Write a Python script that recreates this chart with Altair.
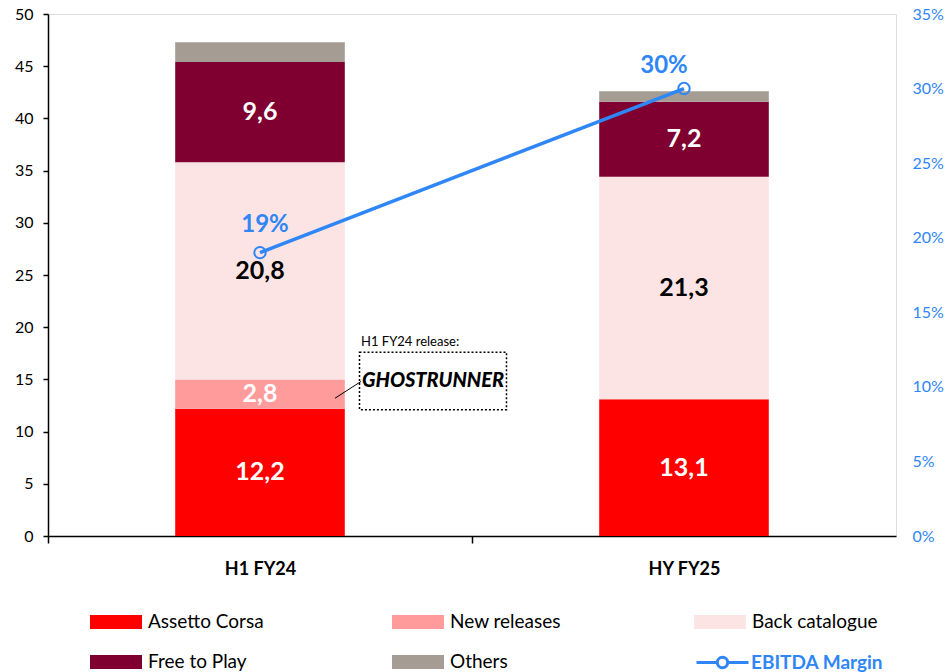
import altair as alt
import pandas as pd

# ---------------- data ----------------
periods = ["H1 FY24", "HY FY25"]
categories = ["Assetto Corsa", "New releases", "Back catalogue", "Free to Play", "Others"]
assetto_corsa = [12.2, 13.1]
new_releases = [2.8, 0.0]
back_catalogue = [20.8, 21.3]
free_to_play = [9.6, 7.2]
others = [1.9, 1.0]
ebitda_margin = [0.19, 0.30]
margin_series = "EBITDA Margin"
annotation_title = "H1 FY24 release:"
annotation_logo = "GHOSTRUNNER"

# ---------------- styles ----------------
cat_colors = ["#ff0000", "#ff9b9b", "#fde4e4", "#7f0030", "#a59c94"]
BLUE = "#2f86f6"
FONT = "Lato"

series = [assetto_corsa, new_releases, back_catalogue, free_to_play, others]
rows = []
for i, p in enumerate(periods):
    for k, c in enumerate(categories):
        rows.append({"period": p, "category": c, "order": k, "value": series[k][i]})
bars_df = pd.DataFrame(rows)
margin_df = pd.DataFrame({"period": periods, "margin": ebitda_margin, "series": margin_series})
ann_df = pd.DataFrame({"period": [periods[0]]})

x_enc = alt.X(
    "period:N",
    sort=periods,
    scale=alt.Scale(paddingInner=0, paddingOuter=0),
    axis=alt.Axis(
        title=None, labelAngle=0, tickOffset=-212, labelOffset=212, tickExtra=True,
        grid=False, domain=True,
        domainColor="black", domainWidth=1.5, tickColor="black", tickWidth=1.5, tickSize=7,
        labelFont=FONT, labelFontWeight="bold", labelFontSize=18, labelColor="black",
        labelPadding=17,
    ),
)

y_left_scale = alt.Scale(domain=[0, 50])

bars = alt.Chart(bars_df).mark_bar(width=alt.RelativeBandSize(0.4)).encode(
    x=x_enc,
    y=alt.Y(
        "value:Q", stack="zero", scale=y_left_scale,
        axis=alt.Axis(
            title=None, values=list(range(0, 51, 5)), grid=False, domain=True,
            domainColor="black", domainWidth=1.5, tickColor="black", tickWidth=1.5,
            tickSize=5, labelPadding=10, labelFont=FONT, labelFontSize=16, labelColor="black",
        ),
    ),
    color=alt.Color(
        "category:N", sort=categories,
        scale=alt.Scale(domain=categories, range=cat_colors),
        legend=alt.Legend(
            orient="none", legendX=42, legendY=582, direction="horizontal", columns=3,
            title=None, symbolType="M-1,-0.27L1,-0.27L1,0.27L-1,0.27Z", symbolSize=2704,
            symbolStrokeWidth=0, labelFont=FONT, labelFontSize=19, labelColor="black",
            labelOffset=6, columnPadding=118, rowPadding=4, gridAlign="all",
        ),
    ),
    order=alt.Order("order:Q", sort="ascending"),
)

bar_labels = (
    alt.Chart(bars_df)
    .transform_stack(stack="value", groupby=["period"], as_=["y0", "y1"],
                     sort=[alt.SortField("order", "ascending")])
    .transform_calculate(
        mid="(datum.y0 + datum.y1) / 2",
        label="replace(format(datum.value, '.1f'), '.', ',')",
    )
    .transform_filter("datum.category != 'Others' && datum.value > 0")
    .mark_text(font=FONT, fontWeight="bold", fontSize=25)
    .encode(
        x=x_enc,
        y=alt.Y("mid:Q", scale=y_left_scale, title=None),
        text="label:N",
        color=alt.condition("datum.category == 'Back catalogue'", alt.value("black"), alt.value("white")),
    )
)

ann = alt.Chart(ann_df)
ann_title = ann.mark_text(align="left", dx=101, font=FONT, fontSize=13, color="black").encode(
    x=x_enc, y=alt.datum(18.6), text=alt.value(annotation_title)
)
ann_box = ann.mark_bar(width=147, xOffset=173, fill="white", stroke="black",
                       strokeDash=[2, 2], strokeWidth=1.5).encode(
    x=x_enc, y=alt.datum(17.6), y2=alt.datum(12.1)
)
ann_logo = ann.mark_text(dx=173, font=FONT, fontStyle="italic", fontWeight=900,
                         fontSize=20, color="black").encode(
    x=x_enc, y=alt.datum(14.85), text=alt.value(annotation_logo)
)
ann_line = ann.mark_rule(xOffset=75, x2Offset=101, color="black", strokeWidth=1).encode(
    x=x_enc, x2=alt.X2("period:N"), y=alt.datum(13.2), y2=alt.datum(14.8)
)

left = alt.layer(bars, bar_labels, ann_box, ann_line, ann_title, ann_logo)

y_right_scale = alt.Scale(domain=[0, 0.35])
y_right = alt.Y(
    "margin:Q", scale=y_right_scale,
    axis=alt.Axis(
        title=None, orient="right", format=".0%", values=[0, 0.05, 0.1, 0.15, 0.2, 0.25, 0.3, 0.35],
        domain=False, ticks=False, tickSize=0, grid=False,
        labelPadding=16, labelColor=BLUE, labelFont=FONT, labelFontSize=16,
    ),
)

line = alt.Chart(margin_df).mark_line(strokeWidth=3.5).encode(
    x=x_enc, y=y_right,
    stroke=alt.Stroke(
        "series:N", scale=alt.Scale(domain=[margin_series], range=[BLUE]),
        legend=alt.Legend(
            orient="none", legendX=647, legendY=621, title=None,
            symbolType="M-1,0L-0.2,0M0.2,0L1,0M0.2,0A0.2,0.2,0,1,1,-0.2,0A0.2,0.2,0,1,1,0.2,0",
            symbolSize=2704, symbolStrokeWidth=3, symbolFillColor="white",
            labelColor=BLUE, labelFontWeight="bold", labelFont=FONT, labelFontSize=19,
            labelOffset=1,
        ),
    ),
)
points = alt.Chart(margin_df).mark_point(shape="circle", size=130, strokeWidth=2,
                                         color=BLUE, opacity=1).encode(x=x_enc, y=y_right)

pct_base = alt.Chart(margin_df).transform_calculate(lbl="format(datum.margin, '.0%')")
pct1 = pct_base.transform_filter(alt.datum.period == periods[0]).mark_text(
    dx=5, dy=-28, font=FONT, fontWeight="bold", fontSize=24, color=BLUE
).encode(x=x_enc, y=y_right, text="lbl:N")
pct2 = pct_base.transform_filter(alt.datum.period == periods[1]).mark_text(
    dx=-20, dy=-23, font=FONT, fontWeight="bold", fontSize=24, color=BLUE
).encode(x=x_enc, y=y_right, text="lbl:N")

right = alt.layer(line, points, pct1, pct2)

chart = (
    alt.layer(left, right)
    .resolve_scale(y="independent")
    .properties(
        width=848, height=522,
        autosize=alt.AutoSizeParams(type="none"),
        padding={"left": 48, "top": 14, "right": 50, "bottom": 136},
    )
    .configure_view(strokeWidth=0, stroke="transparent")
    .configure_axis(grid=False, domain=False)
    .configure(background="white")
)

chart.save("out.html", embed_options={"renderer": "svg", "actions": False})
